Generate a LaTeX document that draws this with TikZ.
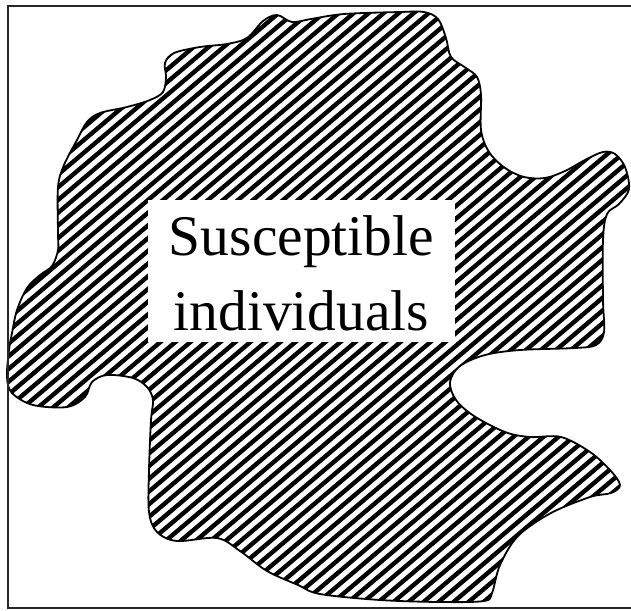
\documentclass[tikz,border=0pt]{standalone}
\usepackage{fontspec}
\setmainfont{Liberation Serif}
\begin{document}
\begin{tikzpicture}[x=1pt,y=-1pt,
  frameline/.style={line width=1.8pt,draw=black!85},
  blobline/.style={line width=1.8pt,draw=black},
  hatchline/.style={line width=4.4pt,black},
  labelbox/.style={fill=white,draw=none,inner sep=0pt,minimum width=307pt,minimum height=142pt,align=center,font=\fontsize{57.5pt}{75pt}\selectfont}]
\useasboundingbox (0,0) rectangle (631,610);
\def\blobpath{plot[smooth cycle,tension=0.55] coordinates {
(263,21) (277,15) (292,22) (311,19) (344,14) (400,12) (424,12) (438,19) (446,38) (451,57) (466,68) (477,77) (481,95) (481,130) (489,152) (505,168) (524,177) (545,178) (565,171) (585,160) (603,152) (615,154) (625,167) (629,189) (619,204) (607,214) (603,240) (603,300) (604,332) (596,345) (575,348) (520,350) (485,355) (460,366) (450,382) (456,400) (474,416) (505,432) (530,437) (561,437) (590,452) (610,470) (620,485) (611,493) (590,497) (551,513) (518,536) (500,565) (492,593) (484,601) (440,602) (380,600) (320,594) (298,585) (267,571) (240,551) (217,538) (177,541) (157,532) (149,512) (149,470) (151,420) (153,400) (147,387) (133,378) (107,375) (92,382) (85,397) (67,407) (33,405) (12,393) (7,377) (9,350) (12,333) (17,310) (27,288) (40,275) (52,266) (58,250) (58,233) (58,187) (64,165) (77,140) (87,122) (100,113) (127,107) (150,100) (163,92) (166,77) (165,63) (174,53) (200,47) (227,44) (247,38)}}
\begin{scope}
\clip \blobpath;
\foreach \k in {-60,...,60} {
  \draw[hatchline] (300+\k*15,300) ++(-700,593) -- ++(1400,-1186);
}
\end{scope}
\draw[blobline] \blobpath;
\draw[frameline] (633,6) -- (8,6) -- (8,608) -- (633,608);
\node[labelbox] (label) at (301.5,271) {\rule{0pt}{44pt}Susceptible\\individuals};
\end{tikzpicture}
\end{document}
